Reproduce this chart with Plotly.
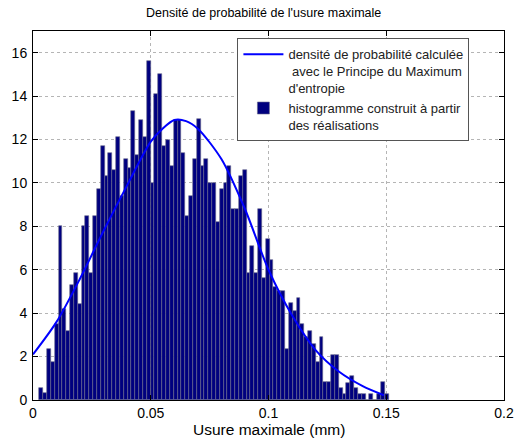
import plotly.graph_objects as go

# Histogram (bin centres start + width, heights)
bin_start = 0.0035
bin_width = 0.00163
hist_heights = [
    0.55, 0.3, 2.35, 1.75, 3.5, 8.0, 4.2, 3.2, 5.3, 5.85,
    4.4, 8.0, 8.5, 5.85, 8.5, 9.7, 11.7, 10.3, 11.4, 10.6,
    12.1, 9.4, 11.1, 10.7, 13.3, 11.3, 12.9, 12.1, 15.6, 10.0,
    14.1, 15.0, 11.7, 12.0, 10.8, 12.9, 12.9, 11.4, 8.5, 9.4,
    11.1, 12.95, 10.8, 11.1, 10.0, 10.0, 8.2, 9.7, 10.0, 10.8,
    8.8, 8.8, 10.3, 10.6, 5.85, 7.1, 5.85, 8.8, 5.6, 7.4,
    6.45, 5.2, 5.0, 5.0, 2.33, 4.45, 4.1, 4.7, 3.5, 2.9,
    3.2, 2.6, 1.76, 2.9, 0.84, 0.84, 2.07, 2.07, 0.54, 0.28,
    0.8, 1.1, 0.54, 0.28, 0.28, 0.0, 0.28, 0.0, 0.28, 0.84,
    0.28,
]
bin_centres = [bin_start + bin_width * i for i in range(len(hist_heights))]

# Max-entropy density curve
curve_x = [0.0, 0.01, 0.02, 0.03, 0.04, 0.05, 0.055, 0.06, 0.065, 0.07,
           0.08, 0.09, 0.10, 0.11, 0.12, 0.13, 0.14, 0.149]
curve_y = [2.1, 3.6, 5.6, 7.8, 9.9, 11.9, 12.5, 12.9, 12.85, 12.5,
           11.1, 8.8, 6.0, 3.9, 2.3, 1.3, 0.64, 0.22]

x_ticks = [0, 0.05, 0.1, 0.15, 0.2]
x_tick_labels = ["0", "0.05", "0.1", "0.15", "0.2"]
y_ticks = [0, 2, 4, 6, 8, 10, 12, 14, 16]

title_text = "Densité de probabilité de l'usure maximale"
x_title = "Usure maximale (mm)"
curve_name = "densité de probabilité calculée<br> avec le Principe du Maximum<br>d'entropie"
hist_name = "histogramme construit à partir<br>des réalisations"

FONT = "Liberation Sans, Arial, Helvetica, sans-serif"

fig = go.Figure()
fig.add_trace(go.Bar(
    x=bin_centres, y=hist_heights, width=bin_width,
    marker=dict(color="#00007f", line=dict(width=0.6, color="#6a6a8c")),
    name=hist_name, legendrank=2,
))
fig.add_trace(go.Scatter(
    x=curve_x, y=curve_y, mode="lines",
    line=dict(color="#0000FF", width=2, shape="spline", smoothing=0.8),
    name=curve_name, legendrank=1,
))

axis_common = dict(
    showline=True, linecolor="black", linewidth=1, mirror="ticks",
    ticks="inside", ticklen=5, tickcolor="black",
    showgrid=True, gridcolor="#b5b5b5", griddash="dot", gridwidth=1,
    zeroline=False, automargin=False,
    tickfont=dict(family=FONT, size=14, color="black"),
)

fig.update_layout(
    width=517, height=445,
    margin=dict(l=33, r=13, t=31, b=45),
    paper_bgcolor="white", plot_bgcolor="white",
    title=dict(text=title_text, x=0.51, xanchor="center", y=0.972, yanchor="middle",
               font=dict(family=FONT, size=12.5, color="black")),
    xaxis=dict(range=[0, 0.2], tickvals=x_ticks, ticktext=x_tick_labels,
               **axis_common),
    yaxis=dict(range=[0, 17], tickvals=y_ticks, ticklabelstandoff=2, **axis_common),
    legend=dict(x=0.434, y=0.98, xanchor="left", yanchor="top",
                bgcolor="white", bordercolor="#555555", borderwidth=1,
                font=dict(family=FONT, size=13, color="#222222"),
                valign="top", itemwidth=40, tracegroupgap=2),
    annotations=[dict(text=x_title, xref="paper", yref="paper", x=0.5, y=-0.08,
                      xanchor="center", yanchor="middle", showarrow=False,
                      font=dict(family=FONT, size=15.5, color="black"))],
    bargap=0,
    showlegend=True,
)

fig.write_html("out.html",
               config={"displayModeBar": False},
               post_script="document.body.style.margin='0';document.body.style.overflow='hidden';")
